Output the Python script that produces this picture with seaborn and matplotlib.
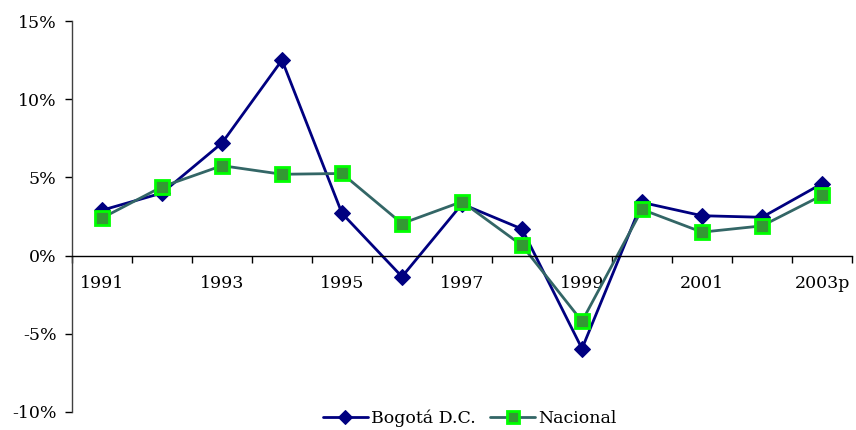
import numpy as np
import pandas as pd
import seaborn as sns
import matplotlib.pyplot as plt
from matplotlib.ticker import FixedLocator, PercentFormatter

years = ["1991", "1992", "1993", "1994", "1995", "1996", "1997",
         "1998", "1999", "2000", "2001", "2002", "2003p"]
bogota = [2.9, 4.0, 7.2, 12.5, 2.7, -1.35, 3.3, 1.7, -5.95, 3.4, 2.55, 2.45, 4.6]
nacional = [2.4, 4.4, 5.75, 5.2, 5.25, 2.05, 3.45, 0.65, -4.2, 2.95, 1.5, 1.9, 3.85]

df = pd.DataFrame({"pos": np.arange(len(years)), "year": years,
                   "Bogotá D.C.": bogota, "Nacional": nacional})

sns.set_style("white")
plt.rcParams["font.family"] = ["DejaVu Serif"]
plt.rcParams["axes.unicode_minus"] = False
plt.rcParams["text.color"] = "black"
plt.rcParams["xtick.color"] = "black"
plt.rcParams["ytick.color"] = "black"

fig = plt.figure(figsize=(8.56, 4.30), dpi=100)
ax = fig.add_axes([72 / 856, 18 / 430, 780 / 856, 391 / 430])

sns.lineplot(data=df, x="pos", y="Bogotá D.C.", ax=ax, color="#000080",
             linewidth=2, marker="D", markersize=8.5, markeredgecolor="#000080",
             label="Bogotá D.C.")
sns.lineplot(data=df, x="pos", y="Nacional", ax=ax, color="#336666",
             linewidth=2, marker="s", markersize=10, markerfacecolor="#339933",
             markeredgecolor="#00FF00", markeredgewidth=2, label="Nacional")

ax.set_xlim(-0.5, len(years) - 0.5)
ax.set_ylim(-10, 15)
ax.set_yticks([-10, -5, 0, 5, 10, 15])
ax.yaxis.set_major_formatter(PercentFormatter(decimals=0))

# zero line acts as the category axis
ax.spines["bottom"].set_position(("data", 0))
ax.spines["bottom"].set_color("black")
ax.spines["bottom"].set_linewidth(1)
ax.spines["left"].set_color("#404040")
ax.spines["left"].set_linewidth(1)
ax.spines["top"].set_visible(False)
ax.spines["right"].set_visible(False)

ax.set_xticks(df["pos"][::2])
ax.set_xticklabels(df["year"][::2])
ax.xaxis.set_minor_locator(FixedLocator(np.arange(-0.5, len(years), 1)))
ax.tick_params(axis="x", which="major", bottom=True, length=0, pad=14, labelsize=12.5)
ax.tick_params(axis="x", which="minor", bottom=True, length=5, width=1, direction="out")
ax.tick_params(axis="y", left=True, length=5, width=1, direction="out", labelsize=12.5, pad=6)
ax.set_xlabel("")
ax.set_ylabel("")

ax.legend(loc="center", bbox_to_anchor=(0.51, -0.015), ncol=2, frameon=False,
          fontsize=12.5, handlelength=2.6, handletextpad=0.2, columnspacing=0.8,
          markerscale=0.85, borderaxespad=0, borderpad=0)

fig.savefig("out.png", dpi=100)
